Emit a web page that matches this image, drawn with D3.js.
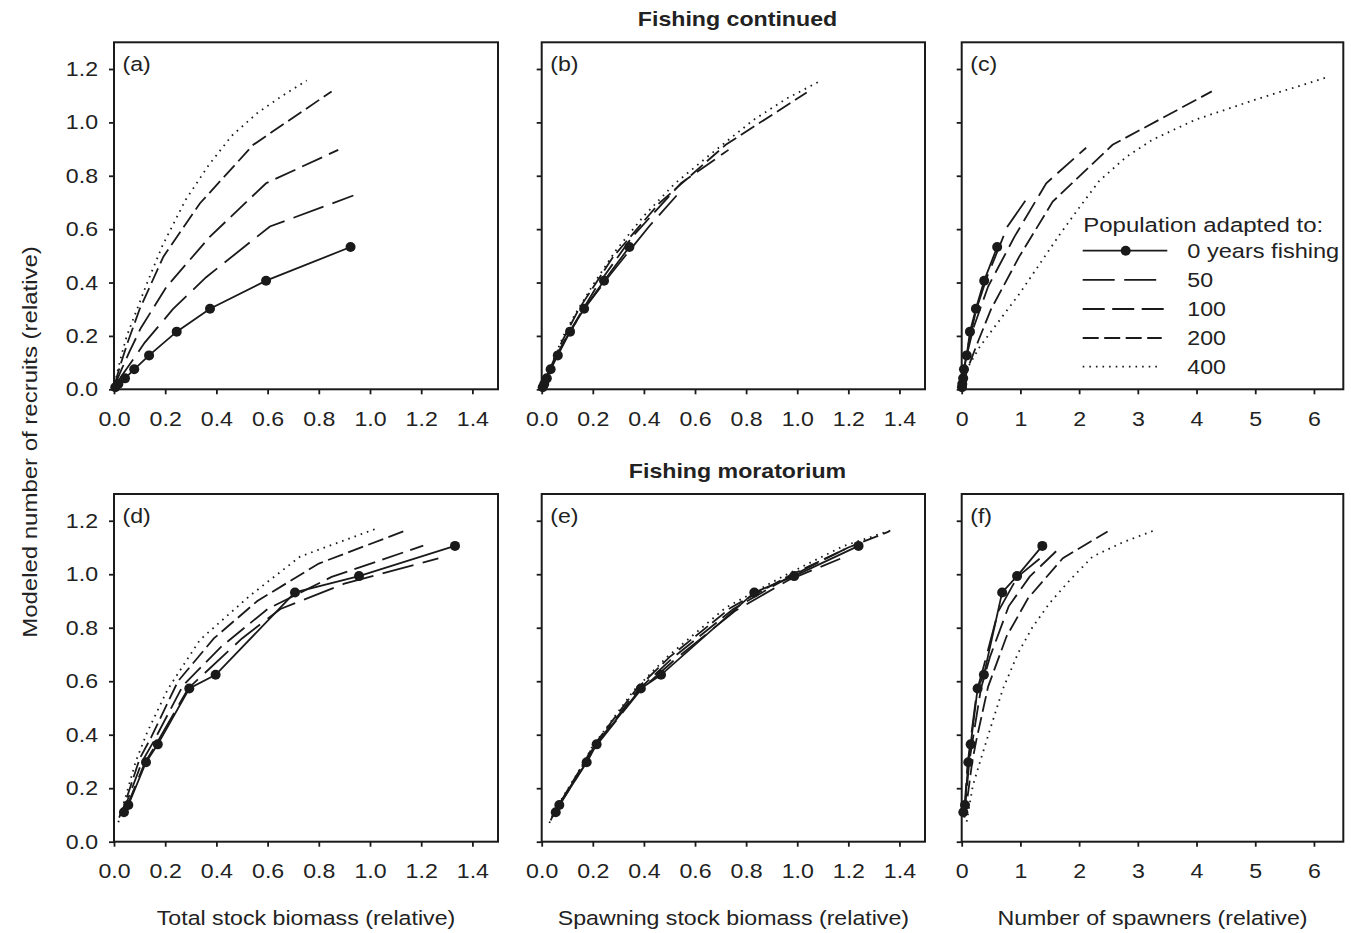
<!DOCTYPE html>
<html>
<head>
<meta charset="utf-8">
<script src="https://cdn.jsdelivr.net/npm/d3@7"></script>
<style>
  body { margin: 0; background: #fff; }
  text { font-family: "Liberation Sans", Arial, Helvetica, sans-serif; fill: #222; }
</style>
</head>
<body>
<svg id="chart" width="1351" height="933"></svg>
<script>
// ---- Stock–recruitment curves: [x, recruits] per adapted population ----
// (a) total stock biomass, fishing continued
const a0   = [[0.005,0.008],[0.017,0.02],[0.043,0.041],[0.079,0.075],[0.137,0.127],[0.245,0.216],[0.375,0.302],[0.594,0.407],[0.924,0.533]];
const a50  = [[0.005,0.012],[0.016,0.03],[0.037,0.06],[0.07,0.105],[0.12,0.175],[0.23,0.30],[0.36,0.42],[0.609,0.61],[0.935,0.726]];
const a100 = [[0.004,0.015],[0.014,0.04],[0.032,0.08],[0.06,0.14],[0.105,0.23],[0.206,0.385],[0.375,0.572],[0.594,0.772],[0.876,0.897]];
const a200 = [[0.004,0.02],[0.012,0.05],[0.028,0.1],[0.055,0.18],[0.1,0.3],[0.193,0.497],[0.336,0.697],[0.544,0.916],[0.85,1.116]];
const a400 = [[0.003,0.02],[0.012,0.06],[0.027,0.12],[0.05,0.2],[0.09,0.3],[0.13,0.40],[0.19,0.54],[0.28,0.71],[0.37,0.84],[0.46,0.95],[0.56,1.035],[0.65,1.095],[0.753,1.157]];
// (b) spawning stock biomass, fishing continued
const b0   = [[0.004,0.008],[0.01,0.02],[0.02,0.041],[0.035,0.075],[0.063,0.127],[0.111,0.216],[0.166,0.302],[0.244,0.407],[0.343,0.533]];
const b50  = [[0.005,0.012],[0.012,0.03],[0.026,0.06],[0.048,0.105],[0.085,0.175],[0.165,0.30],[0.26,0.42],[0.42,0.61],[0.528,0.726]];
const b100 = [[0.006,0.015],[0.017,0.04],[0.035,0.08],[0.065,0.14],[0.118,0.23],[0.215,0.385],[0.355,0.572],[0.545,0.772],[0.731,0.897]];
const b200 = [[0.008,0.02],[0.02,0.05],[0.043,0.1],[0.08,0.18],[0.145,0.3],[0.28,0.497],[0.46,0.697],[0.72,0.916],[1.037,1.112]];
const b400 = [[0.007,0.02],[0.025,0.06],[0.05,0.12],[0.085,0.2],[0.13,0.28],[0.2,0.39],[0.29,0.52],[0.4,0.65],[0.52,0.77],[0.66,0.88],[0.83,1.01],[0.96,1.09],[1.086,1.153]];
// (c) number of spawners, fishing continued
const c0   = [[0.005,0.008],[0.01,0.02],[0.025,0.041],[0.039,0.075],[0.085,0.127],[0.141,0.216],[0.242,0.302],[0.383,0.407],[0.604,0.533]];
const c50  = [[0.005,0.012],[0.014,0.03],[0.032,0.06],[0.062,0.105],[0.12,0.175],[0.25,0.30],[0.43,0.42],[0.78,0.61],[1.146,0.726]];
const c100 = [[0.008,0.015],[0.022,0.04],[0.05,0.08],[0.1,0.14],[0.2,0.23],[0.45,0.385],[0.9,0.572],[1.44,0.772],[2.12,0.905]];
const c200 = [[0.025,0.02],[0.065,0.05],[0.14,0.1],[0.28,0.18],[0.5,0.30],[0.98,0.497],[1.55,0.703],[2.57,0.916],[4.26,1.116]];
const c400 = [[0.02,0.02],[0.085,0.075],[0.31,0.16],[0.65,0.26],[0.99,0.36],[1.33,0.47],[1.67,0.58],[2.0,0.68],[2.34,0.78],[2.8,0.87],[3.25,0.935],[3.98,1.01],[5.0,1.085],[6.21,1.168]];
// (d) total stock biomass, fishing moratorium
const d0   = [[0.039,0.110],[0.056,0.137],[0.125,0.297],[0.171,0.364],[0.294,0.573],[0.397,0.624],[0.707,0.932],[0.957,0.993],[1.332,1.106]];
const d50  = [[0.03,0.10],[0.05,0.13],[0.12,0.295],[0.165,0.365],[0.29,0.573],[0.5,0.76],[0.65,0.87],[0.9,0.965],[1.267,1.059]];
const d100 = [[0.025,0.10],[0.045,0.135],[0.11,0.30],[0.155,0.375],[0.27,0.585],[0.42,0.73],[0.6,0.87],[0.85,0.99],[1.208,1.107]];
const d200 = [[0.02,0.09],[0.04,0.135],[0.1,0.31],[0.145,0.39],[0.25,0.60],[0.39,0.76],[0.56,0.90],[0.8,1.04],[1.13,1.16]];
const d400 = [[0.017,0.073],[0.04,0.15],[0.085,0.30],[0.13,0.41],[0.21,0.57],[0.336,0.755],[0.531,0.92],[0.727,1.066],[0.88,1.12],[1.023,1.17]];
// (e) spawning stock biomass, fishing moratorium
const e0   = [[0.055,0.110],[0.069,0.137],[0.176,0.297],[0.215,0.364],[0.388,0.573],[0.467,0.624],[0.832,0.932],[0.988,0.993],[1.24,1.106]];
const e50  = [[0.045,0.095],[0.065,0.13],[0.17,0.29],[0.21,0.355],[0.385,0.565],[0.52,0.68],[0.76,0.865],[0.97,0.98],[1.168,1.058]];
const e100 = [[0.04,0.09],[0.06,0.125],[0.165,0.29],[0.205,0.355],[0.375,0.565],[0.51,0.685],[0.75,0.87],[0.96,0.985],[1.21,1.105]];
const e200 = [[0.035,0.08],[0.055,0.12],[0.16,0.285],[0.2,0.355],[0.37,0.57],[0.5,0.69],[0.74,0.875],[0.97,0.995],[1.2,1.1],[1.36,1.16]];
const e400 = [[0.03,0.07],[0.05,0.115],[0.155,0.28],[0.195,0.35],[0.36,0.565],[0.49,0.69],[0.72,0.875],[0.95,0.995],[1.18,1.105],[1.379,1.168]];
// (f) number of spawners, fishing moratorium
const f0   = [[0.028,0.110],[0.056,0.137],[0.113,0.297],[0.153,0.364],[0.271,0.573],[0.378,0.624],[0.689,0.932],[0.943,0.993],[1.373,1.106]];
const f50  = [[0.03,0.10],[0.05,0.13],[0.1,0.29],[0.14,0.36],[0.26,0.565],[0.38,0.66],[0.62,0.86],[0.95,0.99],[1.327,1.058]];
const f100 = [[0.035,0.10],[0.06,0.135],[0.13,0.30],[0.18,0.37],[0.33,0.575],[0.48,0.69],[0.8,0.88],[1.158,0.991],[1.666,1.098]];
const f200 = [[0.045,0.09],[0.08,0.135],[0.18,0.3],[0.25,0.38],[0.45,0.58],[0.763,0.767],[1.13,0.91],[1.723,1.06],[2.485,1.16]];
const f400 = [[0.085,0.075],[0.19,0.21],[0.3,0.29],[0.48,0.418],[0.7,0.57],[0.96,0.705],[1.2,0.8],[1.497,0.892],[1.85,0.98],[2.23,1.066],[2.75,1.12],[3.305,1.166]];

// ---- Labels and ticks ----
const legendLabels = ["0 years fishing", "50", "100", "200", "400"];
const legendTitle = "Population adapted to:";
const panelLetters = ["(a)", "(b)", "(c)", "(d)", "(e)", "(f)"];
const rowTitles = ["Fishing continued", "Fishing moratorium"];
const xTitles = ["Total stock biomass (relative)", "Spawning stock biomass (relative)", "Number of spawners (relative)"];
const yTitle = "Modeled number of recruits (relative)";
const biomassTicks = [0, 0.2, 0.4, 0.6, 0.8, 1.0, 1.2, 1.4];
const spawnerTicks = [0, 1, 2, 3, 4, 5, 6];
const recruitTicks = [0, 0.2, 0.4, 0.6, 0.8, 1.0, 1.2];

// ---- Layout ----
const INK = "#1a1a1a";
const FONT = 20.5;
const STRETCH = 1.13;            // wide sans glyphs
const cols = [
  { x0: 114, x1: 498, max: 1.5, ticks: biomassTicks, fmt: d3.format(".1f") },
  { x0: 541.7, x1: 925, max: 1.5, ticks: biomassTicks, fmt: d3.format(".1f") },
  { x0: 961.7, x1: 1343.3, max: 6.5, ticks: spawnerTicks, fmt: d3.format("d") }
];
const rows = [{ y0: 42.3, y1: 389.3 }, { y0: 494, y1: 841.7 }];
const dashes = [null, "32,9.5", "22,7.5", "16,5.5", "1.6,5"];

const panels = [
  { row: 0, col: 0, series: [a0, a50, a100, a200, a400] },
  { row: 0, col: 1, series: [b0, b50, b100, b200, b400] },
  { row: 0, col: 2, series: [c0, c50, c100, c200, c400] },
  { row: 1, col: 0, series: [d0, d50, d100, d200, d400] },
  { row: 1, col: 1, series: [e0, e50, e100, e200, e400] },
  { row: 1, col: 2, series: [f0, f50, f100, f200, f400] }
];

const svg = d3.select("#chart");

// text drawn with horizontally widened glyphs
function label(parent, x, y, str, opts = {}) {
  const rot = opts.rotate ? ` rotate(${opts.rotate})` : "";
  const k = opts.stretch || STRETCH;
  return parent.append("text")
    .attr("transform", `translate(${x},${y})${rot} scale(${k},1)`)
    .attr("text-anchor", opts.anchor || "start")
    .style("font-size", (opts.size || FONT) + "px")
    .style("font-weight", opts.bold ? "bold" : null)
    .text(str);
}

panels.forEach((p, i) => {
  const c = cols[p.col], r = rows[p.row];
  const x = d3.scaleLinear().domain([0, c.max]).range([c.x0, c.x1]);
  const y = d3.scaleLinear().domain([0, 1.3]).range([r.y1, r.y0]);
  const g = svg.append("g");

  // x axis
  const xa = g.append("g").attr("transform", `translate(0,${r.y1})`)
    .call(d3.axisBottom(x).tickValues(c.ticks).tickSize(5).tickPadding(17).tickFormat(c.fmt));
  xa.select(".domain").remove();
  xa.selectAll(".tick line").attr("stroke", INK).attr("stroke-width", 1.8);
  xa.selectAll(".tick text").attr("fill", "#222").style("font-size", FONT + "px")
    .style("font-family", '"Liberation Sans", Arial, sans-serif')
    .attr("transform", `scale(${STRETCH},1)`);

  // y axis (labels on the left column only)
  const ya = g.append("g").attr("transform", `translate(${c.x0},0)`)
    .call(d3.axisLeft(y).tickValues(recruitTicks).tickSize(5).tickPadding(11)
      .tickFormat(p.col === 0 ? d3.format(".1f") : () => ""));
  ya.select(".domain").remove();
  ya.selectAll(".tick line").attr("stroke", INK).attr("stroke-width", 1.8);
  ya.selectAll(".tick text").attr("fill", "#222").style("font-size", FONT + "px")
    .style("font-family", '"Liberation Sans", Arial, sans-serif')
    .attr("x", -16 / STRETCH)
    .attr("transform", `scale(${STRETCH},1)`);

  // curves: dotted first, solid with markers last
  const line = d3.line().x(d => x(d[0])).y(d => y(d[1]));
  for (let s = p.series.length - 1; s >= 0; s--) {
    g.append("path")
      .datum(p.series[s])
      .attr("d", line)
      .attr("fill", "none")
      .attr("stroke", INK)
      .attr("stroke-width", 1.8)
      .attr("stroke-dasharray", dashes[s]);
  }
  g.selectAll("circle.pt").data(p.series[0]).join("circle")
    .attr("class", "pt")
    .attr("cx", d => x(d[0])).attr("cy", d => y(d[1]))
    .attr("r", 5).attr("fill", INK);

  // frame
  g.append("rect")
    .attr("x", c.x0).attr("y", r.y0)
    .attr("width", c.x1 - c.x0).attr("height", r.y1 - r.y0)
    .attr("fill", "none").attr("stroke", INK).attr("stroke-width", 2);

  label(g, c.x0 + 8.5, r.y0 + 29, panelLetters[i]);
});

// row titles
rowTitles.forEach((t, i) => {
  label(svg, 737.5, rows[i].y0 - 16.3, t, { anchor: "middle", bold: true, stretch: 1.13 });
});

// x axis titles
xTitles.forEach((t, i) => {
  label(svg, (cols[i].x0 + cols[i].x1) / 2, 925, t, { anchor: "middle" });
});

// y axis title
label(svg, 37, 442, yTitle, { anchor: "middle", rotate: -90, stretch: 1.17 });

// legend
const lg = svg.append("g");
label(lg, 1083.3, 231.7, legendTitle, { stretch: 1.17 });
const legendY = [250.7, 279.8, 309, 338, 366.7];
const legendLen = [84.6, 74, 84.6, 79, 79];
legendLabels.forEach((t, i) => {
  lg.append("line")
    .attr("x1", 1082.7).attr("x2", 1082.7 + legendLen[i])
    .attr("y1", legendY[i]).attr("y2", legendY[i])
    .attr("stroke", INK).attr("stroke-width", 1.8)
    .attr("stroke-dasharray", dashes[i]);
  if (i === 0) {
    lg.append("circle").attr("cx", 1125.7).attr("cy", legendY[i]).attr("r", 5).attr("fill", INK);
  }
  label(lg, 1187.3, legendY[i] + 7.3, t, { stretch: i === 0 ? 1.15 : STRETCH });
});
</script>
</body>
</html>
